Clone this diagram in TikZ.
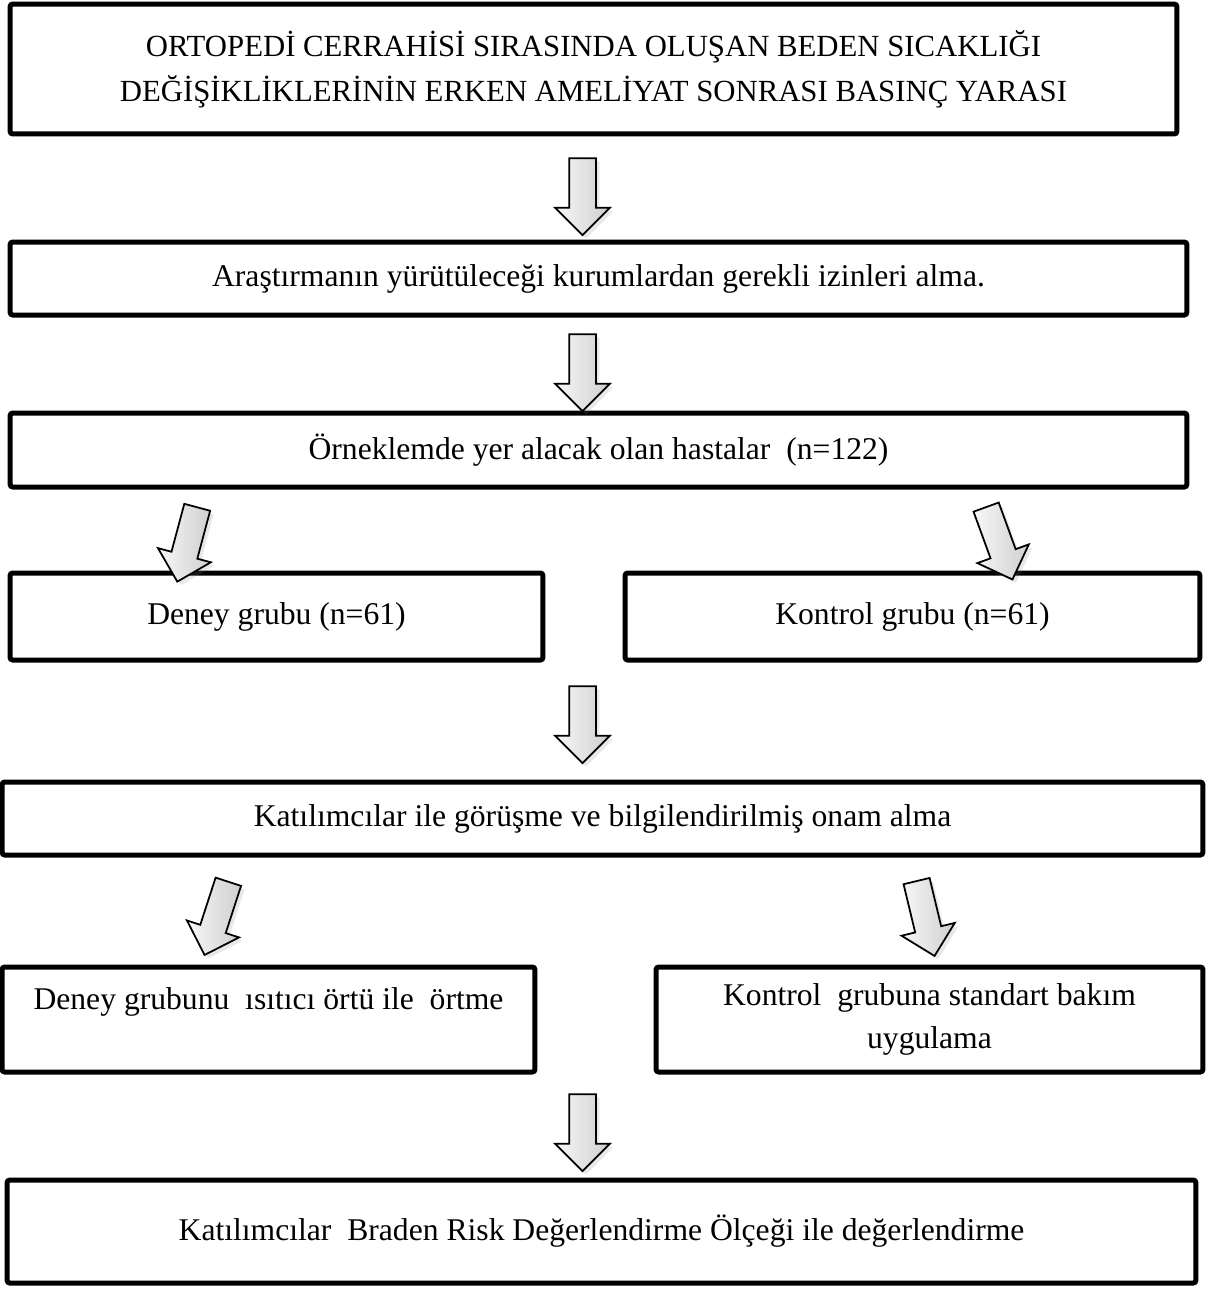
\documentclass[tikz,border=0pt]{standalone}
\usepackage{fontspec}
\setmainfont{Liberation Serif}
\usepackage{tikz}
\usetikzlibrary{shapes.arrows, shadows, calc}

\begin{document}
\begin{tikzpicture}[x=0.02cm, y=-0.02cm,
    stage/.style={rectangle, draw=black, line width=0.1cm, rounded corners=1.5pt, align=center, inner sep=0pt},
    flowarrow/.style={single arrow, draw=black, line width=1pt, left color=gray!6, right color=gray!38,
        minimum height=1.54cm, minimum width=1.06cm, inner xsep=0pt, inner ysep=0.25cm,
        single arrow head extend=0.28cm, single arrow tip angle=90,
        drop shadow={shadow xshift=2pt, shadow yshift=-2pt, opacity=0.18}},
    font=\fontsize{18}{24}\selectfont]
\useasboundingbox (0,0) rectangle (1209,1289);
\node[stage, minimum width=23.34cm, minimum height=2.6cm, font=\fontsize{17.5}{25.6}\selectfont] (title) at (593.5,69)
  {ORTOPEDİ CERRAHİSİ SIRASINDA OLUŞAN BEDEN SICAKLIĞI\\DEĞİŞİKLİKLERİNİN ERKEN AMELİYAT SONRASI BASINÇ YARASI};
\node[stage, minimum width=23.54cm, minimum height=1.46cm] (permit) at (598.5,278.5)
  {Araştırmanın yürütüleceği kurumlardan gerekli izinleri alma.};
\node[stage, minimum width=23.54cm, minimum height=1.48cm] (sample) at (598.5,450)
  {Örneklemde yer alacak olan hastalar \ (n=122)};
\node[stage, minimum width=10.66cm, minimum height=1.74cm] (expgrp) at (276.5,616.5)
  {Deney grubu (n=61)};
\node[stage, minimum width=11.5cm, minimum height=1.74cm] (ctlgrp) at (912.5,616.5)
  {Kontrol grubu (n=61)};
\node[stage, minimum width=24.02cm, minimum height=1.46cm] (consent) at (602.5,818.5)
  {Katılımcılar ile görüşme ve bilgilendirilmiş onam alma};
\node[stage, minimum width=10.66cm, minimum height=2.1cm] (warming) at (268.5,1019.5)
  {Deney grubunu \ ısıtıcı örtü ile \ örtme\\ \mbox{}};
\node[stage, minimum width=10.94cm, minimum height=2.1cm] (standard) at (929.5,1019.5)
  {Kontrol \ grubuna standart bakım\\uygulama};
\node[stage, minimum width=23.78cm, minimum height=2.06cm] (braden) at (601.5,1231.5)
  {Katılımcılar \ Braden Risk Değerlendirme Ölçeği ile değerlendirme};
% block arrows between the stages
\node[flowarrow, rotate=-90] (a1) at (582.5,190) {};
\node[flowarrow, rotate=-90] (a2) at (582.5,366) {};
\node[flowarrow, rotate=-105] (a3) at (189,538) {};
\node[flowarrow, rotate=-70] (a4) at (997,537) {};
\node[flowarrow, rotate=-90] (a5) at (582.5,718) {};
\node[flowarrow, rotate=-108] (a6) at (218.5,912) {};
\node[flowarrow, rotate=-76.5] (a7) at (924,912) {};
\node[flowarrow, rotate=-90] (a8) at (582.5,1126) {};
\end{tikzpicture}
\end{document}
